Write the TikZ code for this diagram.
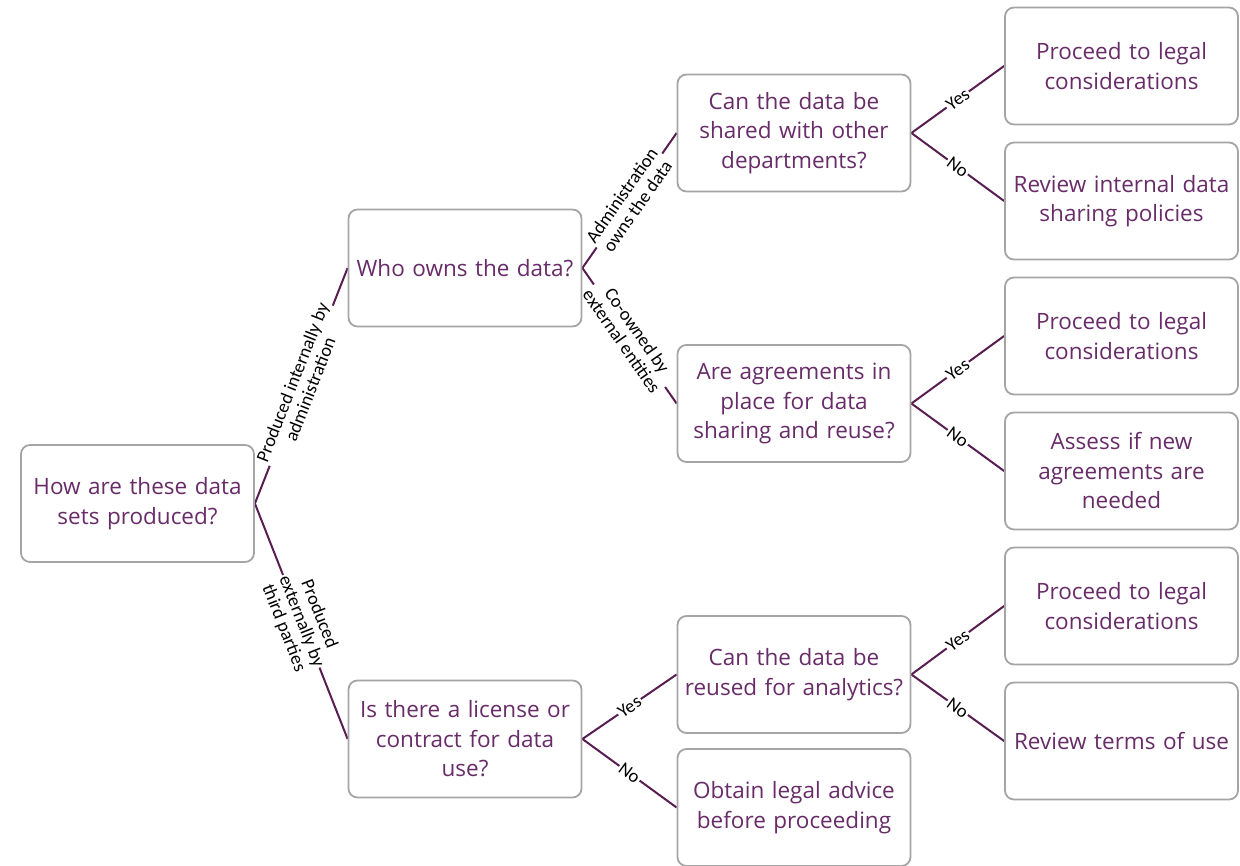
\documentclass[tikz,border=0pt]{standalone}
\usepackage{fontspec}
\setmainfont{Open Sans}
\newfontfamily\labfont{Carlito}
\usetikzlibrary{backgrounds}
\definecolor{txtpurple}{RGB}{104,44,104}
\definecolor{linepurple}{RGB}{88,30,82}
\definecolor{boxgray}{RGB}{165,165,165}
\tikzset{
  box/.style={draw=boxgray, line width=1.8pt, rounded corners=9pt, fill=white,
    minimum width=233pt, minimum height=117pt, text width=231pt, align=center,
    text=txtpurple, font=\fontsize{22.5}{29.5}\selectfont, inner sep=1pt},
  conn/.style={draw=linepurple, line width=2pt},
  lab/.style={midway, sloped, fill=white, text=black, align=center, inner sep=1.5pt,
    font=\labfont\fontsize{18.5}{19}\selectfont}
}
\begin{document}
\begin{tikzpicture}[x=1pt,y=-1pt]
\useasboundingbox (0,0) rectangle (1240,866);
\node[box] (A) at (137.5,503.5) {How are these data\\ sets produced?};
\node[box] (B) at (465,268) {Who owns the data?};
\node[box] (C) at (465,739) {Is there a license or\\ contract for data\\ use?};
\node[box] (D) at (794,133) {Can the data be\\ shared with other\\ departments?};
\node[box] (E) at (794,403.5) {Are agreements in\\ place for data\\ sharing and reuse?};
\node[box] (F) at (794,674.5) {Can the data be\\ reused for analytics?};
\node[box] (G) at (794,807.5) {Obtain legal advice\\ before proceeding};
\node[box] (H1) at (1121.5,66) {Proceed to legal\\ considerations};
\node[box] (H2) at (1121.5,201) {Review internal data\\ sharing policies};
\node[box] (H3) at (1121.5,336) {Proceed to legal\\ considerations};
\node[box] (H4) at (1121.5,471) {Assess if new\\ agreements are\\ needed};
\node[box] (H5) at (1121.5,606) {Proceed to legal\\ considerations};
\node[box] (H6) at (1121.5,741) {Review terms of use};

\begin{scope}[on background layer]
\draw[conn] (A.east) -- node[lab]{Produced internally by\\ administration} (B.west);
\draw[conn] (A.east) -- node[lab]{Produced\\ externally by\\ third parties} (C.west);
\draw[conn] (B.east) -- node[lab]{Administration\\ owns the data} (D.west);
\draw[conn] (B.east) -- node[lab]{Co-owned by\\ external entities} (E.west);
\draw[conn] (C.east) -- node[lab]{Yes} (F.west);
\draw[conn] (C.east) -- node[lab]{No} (G.west);
\draw[conn] (D.east) -- node[lab]{Yes} (H1.west);
\draw[conn] (D.east) -- node[lab]{No} (H2.west);
\draw[conn] (E.east) -- node[lab]{Yes} (H3.west);
\draw[conn] (E.east) -- node[lab]{No} (H4.west);
\draw[conn] (F.east) -- node[lab]{Yes} (H5.west);
\draw[conn] (F.east) -- node[lab]{No} (H6.west);
\end{scope}
\end{tikzpicture}
\end{document}
